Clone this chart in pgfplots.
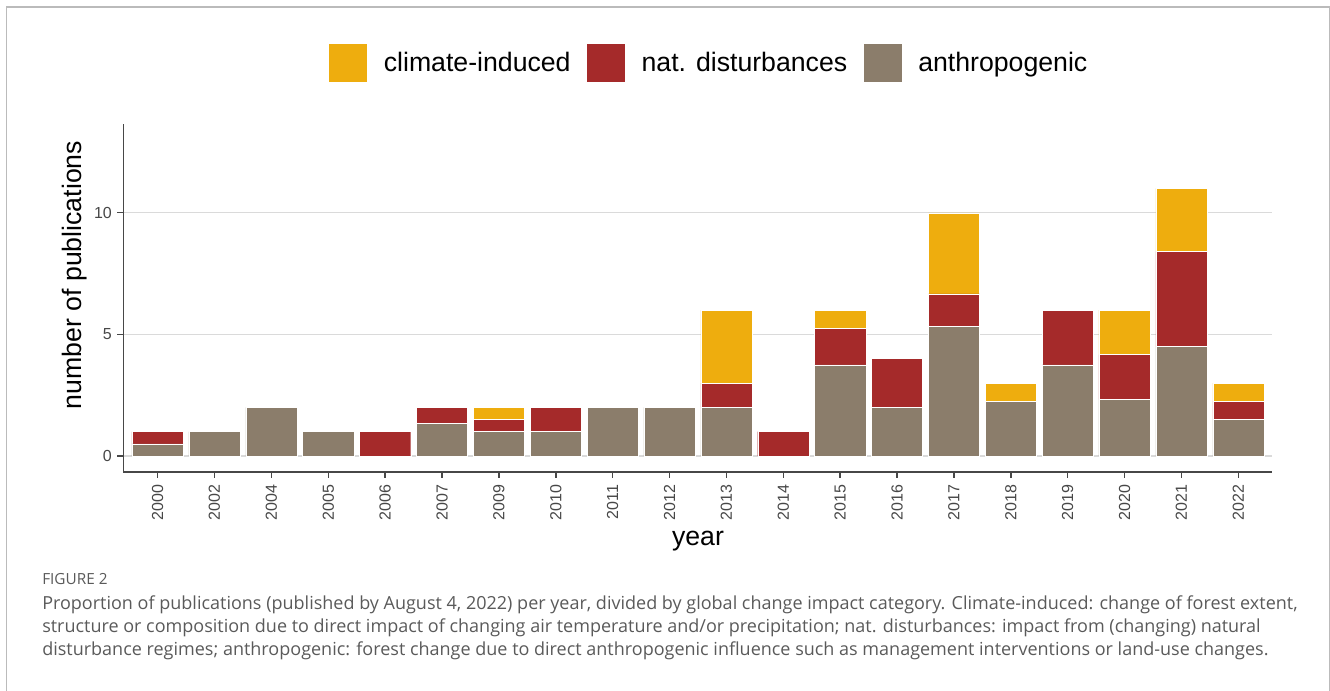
\documentclass[border=0pt]{standalone}
\usepackage{pgfplots}
\pgfplotsset{compat=1.18}
\usepackage{pgfplotstable}
\usepackage{fontspec}
\setmainfont{Liberation Sans}
\newfontfamily\capfont{Open Sans}
\definecolor{clim}{HTML}{EEAD0E}
\definecolor{nat}{HTML}{A52A2A}
\definecolor{anth}{HTML}{8B7D6B}
\definecolor{axgray}{HTML}{474747}
\definecolor{gridgray}{HTML}{DADADA}
\definecolor{capgray}{HTML}{5A5A5A}
\definecolor{framegray}{HTML}{BBBBBB}

\pgfplotstableread{
x anth nat clim
0 0.5 0.5 0
1 1 0 0
2 2 0 0
3 1 0 0
4 0 1 0
5 1.333 0.667 0
6 1 0.5 0.5
7 1 1 0
8 2 0 0
9 2 0 0
10 2 1 3
11 0 1 0
12 3.75 1.5 0.75
13 2 2 0
14 5.333 1.333 3.333
15 2.25 0 0.75
16 3.75 2.25 0
17 2.333 1.833 1.833
18 4.5 3.917 2.583
19 1.5 0.75 0.75
}\datatable

\begin{document}
\begin{tikzpicture}
\useasboundingbox (0,0) rectangle (997.5pt,518.25pt);
\draw[framegray, line width=0.8pt] (4.9pt,0) -- (4.9pt,513pt) -- (996.9pt,513pt) -- (996.9pt,0);
\begin{axis}[
  at={(92.6pt,164.4pt)}, anchor=south west, scale only axis,
  width=861.75pt, height=260.85pt,
  xmin=-0.6, xmax=19.6, ymin=-0.65, ymax=13.65,
  ybar stacked, bar width=0.9,
  axis x line*=bottom, axis y line*=left,
  axis line style={axgray, line width=1.1pt},
  xtick={0,...,19},
  xticklabels={2000,2002,2004,2005,2006,2007,2009,2010,2011,2012,2013,2014,2015,2016,2017,2018,2019,2020,2021,2022},
  ytick={0,5,10},
  tick align=outside, major tick length=4.5pt,
  tick style={axgray, line width=1.1pt},
  ymajorgrids, grid style={gridgray, line width=1pt},
  xticklabel shift=5pt, yticklabel shift=4pt,
  xticklabel style={rotate=90, anchor=east, inner sep=0pt, font=\fontsize{12}{14}\selectfont, text=axgray},
  yticklabel style={inner sep=0pt, font=\fontsize{12}{14}\selectfont, text=axgray},
  /pgf/number format/assume math mode=true,
  xlabel={year}, ylabel={number of publications},
  xlabel style={at={(axis description cs:0.5,-0.2105)}, anchor=base, font=\fontsize{20}{24}\selectfont},
  ylabel style={at={(axis description cs:-0.0361,0.566)}, anchor=base, font=\fontsize{20}{24}\selectfont},
  legend style={draw=none, fill=none, at={(axis description cs:0.509,1.175)}, anchor=center,
    font=\fontsize{20}{24}\selectfont, column sep=12.4pt, inner sep=0pt, nodes={inner sep=0pt}},
  legend columns=-1,
  every axis plot/.append style={draw=white, line width=0.3pt},
]
\addplot[fill=anth, forget plot] table[x=x, y=anth] {\datatable};
\addplot[fill=nat, forget plot] table[x=x, y=nat] {\datatable};
\addplot[fill=clim, forget plot] table[x=x, y=clim] {\datatable};
\addlegendimage{fill=clim, draw=none, legend image code/.code={\fill (0pt,-14.25pt) rectangle (28.5pt,14.25pt);}}
\addlegendentry{climate-induced}
\addlegendimage{fill=nat, draw=none, legend image code/.code={\fill (0pt,-14.25pt) rectangle (28.5pt,14.25pt);}}
\addlegendentry{nat. disturbances}
\addlegendimage{fill=anth, draw=none, legend image code/.code={\fill (0pt,-14.25pt) rectangle (28.5pt,14.25pt);}}
\addlegendentry{anthropogenic}
\end{axis}
\node[anchor=base west, text=capgray, font=\capfont\fontsize{11.5}{13}\selectfont, inner sep=0pt] at (31.5pt,79.5pt) {FIGURE 2};
\begin{scope}[every node/.style={anchor=base west, text=capgray, font=\capfont\fontsize{13.5}{15}\selectfont, inner sep=0pt}]
\node at (31.5pt,60.75pt) {Proportion of publications (published by August 4, 2022) per year, divided by global change impact category. Climate-induced: change of forest extent,};
\node at (31.5pt,43.7pt) {structure or composition due to direct impact of changing air temperature and/or precipitation; nat. disturbances: impact from (changing) natural};
\node at (31.5pt,26.7pt) {disturbance regimes; anthropogenic: forest change due to direct anthropogenic influence such as management interventions or land-use changes.};
\end{scope}
\end{tikzpicture}
\end{document}
